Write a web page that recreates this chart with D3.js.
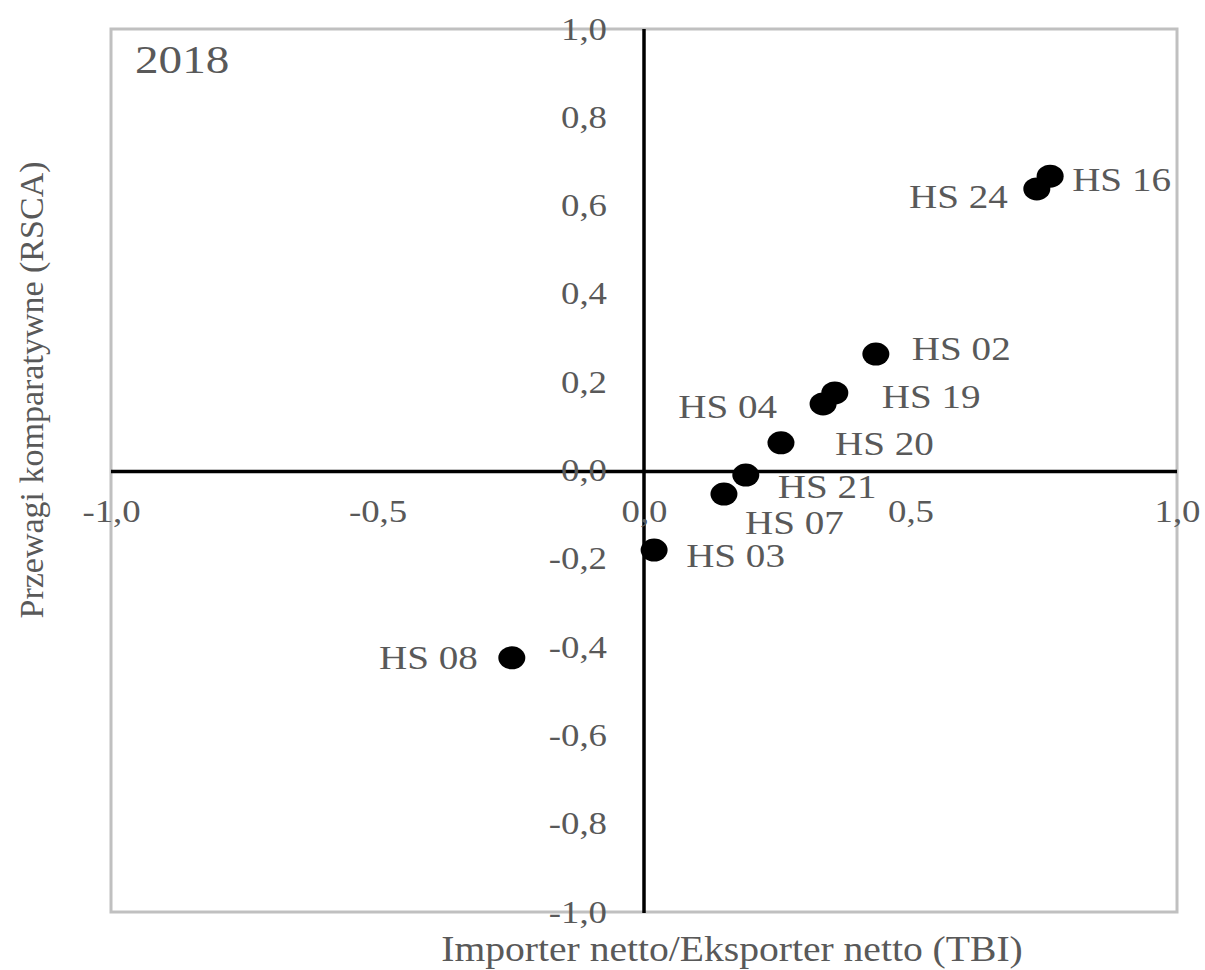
<!DOCTYPE html>
<html>
<head>
<meta charset="utf-8">
<script src="https://cdn.jsdelivr.net/npm/d3@7"></script>
<style>
  html, body { margin: 0; padding: 0; background: #ffffff; }
  svg { display: block; }
  text { font-family: "Liberation Serif", "Times New Roman", serif; fill: #595959; }
</style>
</head>
<body>
<svg id="chart" width="1205" height="970"></svg>
<script>
// ---- data ----
const categories = ["HS 16", "HS 24", "HS 02", "HS 19", "HS 04", "HS 20", "HS 21", "HS 07", "HS 03", "HS 08"];
const tbiValues  = [0.762, 0.737, 0.435, 0.358, 0.336, 0.257, 0.191, 0.150, 0.019, -0.248];
const rscaValues = [0.669, 0.640, 0.266, 0.178, 0.153, 0.065, -0.008, -0.051, -0.178, -0.422];
const xTicks = [-1.0, -0.5, 0.0, 0.5, 1.0];
const yTicks = [-1.0, -0.8, -0.6, -0.4, -0.2, 0.0, 0.2, 0.4, 0.6, 0.8, 1.0];
const yearLabel = "2018";
const xTitle = "Importer netto/Eksporter netto (TBI)";
const yTitle = "Przewagi komparatywne (RSCA)";

// ---- label placement (annotation layout, px offsets from the point) ----
const labelLayout = {
  "HS 16": { dx: 22,  dy: 15, anchor: "start" },
  "HS 24": { dx: -29, dy: 19, anchor: "end" },
  "HS 02": { dx: 36,  dy: 6,  anchor: "start" },
  "HS 19": { dx: 47,  dy: 15, anchor: "start" },
  "HS 04": { dx: -46, dy: 14, anchor: "end" },
  "HS 20": { dx: 54,  dy: 12, anchor: "start" },
  "HS 21": { dx: 32,  dy: 23, anchor: "start" },
  "HS 07": { dx: 21,  dy: 40, anchor: "start" },
  "HS 03": { dx: 32,  dy: 17, anchor: "start" },
  "HS 08": { dx: -34, dy: 11, anchor: "end" }
};

const points = categories.map((c, i) => ({ name: c, x: tbiValues[i], y: rscaValues[i] }));

const SX = 1.15; // horizontal glyph stretch seen in the reference
const svg = d3.select("#chart");
const pLeft = 111, pRight = 1177, pTop = 30, pBottom = 913;

const x = d3.scaleLinear().domain([-1, 1]).range([pLeft, pRight]);
const y = d3.scaleLinear().domain([-1, 1]).range([pBottom, pTop]);

const loc = d3.formatLocale({ decimal: ",", thousands: " ", grouping: [3], currency: ["", " zł"], minus: "-" });
const fmt = loc.format(".1f");

// frame
svg.append("rect")
  .attr("x", pLeft).attr("y", pTop - 1)
  .attr("width", pRight - pLeft).attr("height", pBottom - pTop)
  .attr("fill", "none").attr("stroke", "#c0c0c0").attr("stroke-width", 3);

// zero axes lines
svg.append("line")
  .attr("x1", pLeft).attr("x2", pRight)
  .attr("y1", y(0)).attr("y2", y(0))
  .attr("stroke", "#000").attr("stroke-width", 3.5);
svg.append("line")
  .attr("x1", x(0)).attr("x2", x(0))
  .attr("y1", pTop - 1).attr("y2", pBottom)
  .attr("stroke", "#000").attr("stroke-width", 3.5);

// x axis tick labels
const gx = svg.append("g")
  .attr("transform", `translate(0,${y(0)})`)
  .call(d3.axisBottom(x).tickValues(xTicks).tickFormat(fmt).tickSize(0));
gx.select(".domain").remove();
gx.selectAll("text")
  .attr("y", 0).attr("dy", 0)
  .attr("transform", `translate(0,50) scale(${SX},1)`)
  .attr("fill", "#595959")
  .style("font-family", "'Liberation Serif', serif")
  .style("font-size", "32px");

// y axis tick labels
const gy = svg.append("g")
  .attr("transform", `translate(${x(0)},0)`)
  .call(d3.axisLeft(y).tickValues(yTicks).tickFormat(fmt).tickSize(0));
gy.select(".domain").remove();
gy.selectAll("text")
  .attr("x", 0).attr("dy", 0)
  .attr("transform", `translate(-37,9) scale(${SX},1)`)
  .attr("fill", "#595959")
  .style("font-family", "'Liberation Serif', serif")
  .style("font-size", "32px");

// points
svg.append("g").selectAll("ellipse")
  .data(points).join("ellipse")
  .attr("cx", d => x(d.x)).attr("cy", d => y(d.y))
  .attr("rx", 13.5).attr("ry", 11.5)
  .attr("fill", "#000");

// point labels
svg.append("g").selectAll("text")
  .data(points).join("text")
  .attr("transform", d => {
    const L = labelLayout[d.name];
    return `translate(${x(d.x) + L.dx},${y(d.y) + L.dy}) scale(${SX},1)`;
  })
  .attr("text-anchor", d => labelLayout[d.name].anchor)
  .style("font-size", "34px")
  .text(d => d.name);

// year label
svg.append("text")
  .attr("transform", `translate(135,73) scale(${SX},1)`)
  .style("font-size", "41px")
  .text(yearLabel);

// axis titles
svg.append("text")
  .attr("transform", `translate(732,961) scale(1.1,1)`)
  .attr("text-anchor", "middle")
  .style("font-size", "36px")
  .text(xTitle);

svg.append("text")
  .attr("transform", `translate(43,390) rotate(-90)`)
  .attr("text-anchor", "middle")
  .style("font-size", "34px")
  .text(yTitle);
</script>
</body>
</html>
